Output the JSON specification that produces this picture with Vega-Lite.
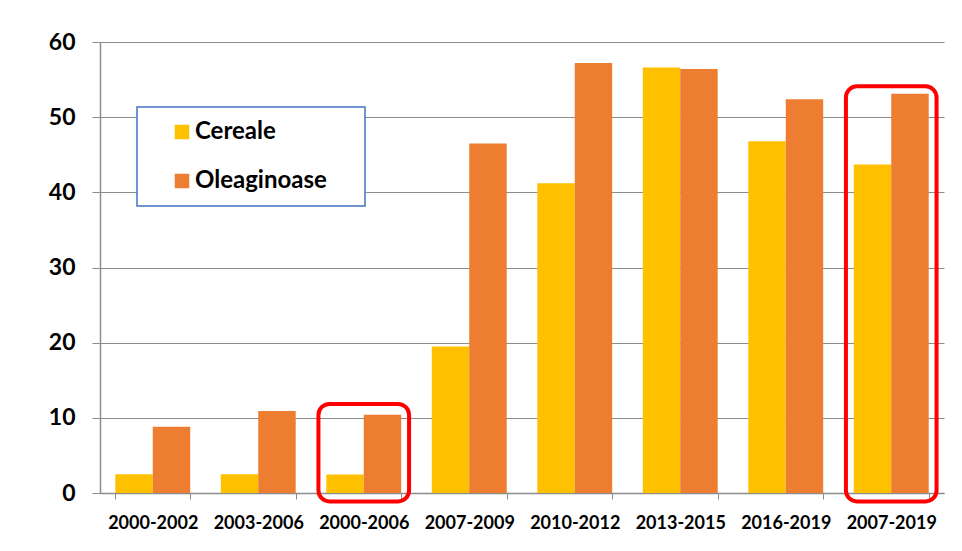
{
  "$schema": "https://vega.github.io/schema/vega-lite/v6.json",
  "width": 844,
  "height": 451,
  "autosize": {"type": "none"},
  "padding": {"left": 100, "top": 42, "right": 18, "bottom": 58},
  "background": "white",
  "config": {
    "view": {"stroke": null},
    "font": "Lato",
    "legend": {"strokeWidth": 1.5}
  },
  "datasets": {
    "bars": [
      {"period": "2000-2002", "series": "Cereale", "value": 2.5},
      {"period": "2000-2002", "series": "Oleaginoase", "value": 8.8},
      {"period": "2003-2006", "series": "Cereale", "value": 2.5},
      {"period": "2003-2006", "series": "Oleaginoase", "value": 10.9},
      {"period": "2000-2006", "series": "Cereale", "value": 2.45},
      {"period": "2000-2006", "series": "Oleaginoase", "value": 10.4},
      {"period": "2007-2009", "series": "Cereale", "value": 19.5},
      {"period": "2007-2009", "series": "Oleaginoase", "value": 46.5},
      {"period": "2010-2012", "series": "Cereale", "value": 41.2},
      {"period": "2010-2012", "series": "Oleaginoase", "value": 57.2},
      {"period": "2013-2015", "series": "Cereale", "value": 56.6},
      {"period": "2013-2015", "series": "Oleaginoase", "value": 56.4},
      {"period": "2016-2019", "series": "Cereale", "value": 46.8},
      {"period": "2016-2019", "series": "Oleaginoase", "value": 52.4},
      {"period": "2007-2019", "series": "Cereale", "value": 43.7},
      {"period": "2007-2019", "series": "Oleaginoase", "value": 53.1}
    ],
    "highlights": [
      {"period": "2000-2006", "top": 11.85, "bottom": -1.12},
      {"period": "2007-2019", "top": 54.1, "bottom": -1.12}
    ]
  },
  "encoding": {
    "x": {
      "field": "period",
      "type": "nominal",
      "title": null,
      "scale": {
        "domain": ["2000-2002", "2003-2006", "2000-2006", "2007-2009", "2010-2012", "2013-2015", "2016-2019", "2007-2019"],
        "paddingInner": 0.29,
        "paddingOuter": 0.145
      },
      "axis": {
        "labelAngle": 0,
        "labelFont": "Lato",
        "labelFontSize": 18,
        "labelFontWeight": "bold",
        "labelColor": "#000000",
        "labelPadding": 15,
        "tickBand": "extent",
        "tickSize": 6,
        "tickColor": "#8c8c8c",
        "domainColor": "#8c8c8c",
        "domainWidth": 1.5,
        "grid": false
      }
    }
  },
  "layer": [
    {
      "data": {"name": "bars"},
      "mark": {"type": "bar"},
      "encoding": {
        "xOffset": {"field": "series", "type": "nominal", "scale": {"paddingInner": 0, "paddingOuter": 0}},
        "y": {
          "field": "value",
          "type": "quantitative",
          "title": null,
          "scale": {"domain": [0, 60], "nice": false},
          "axis": {
            "values": [0, 10, 20, 30, 40, 50, 60],
            "labelFont": "Lato",
            "labelFontSize": 23,
            "labelFontWeight": "bold",
            "labelColor": "#000000",
            "labelPadding": 17,
            "tickSize": 8,
            "tickColor": "#8c8c8c",
            "domainColor": "#8c8c8c",
            "domainWidth": 1.5,
            "gridColor": "#8c8c8c",
            "gridWidth": 1.2
          }
        },
        "color": {
          "field": "series",
          "type": "nominal",
          "scale": {"domain": ["Cereale", "Oleaginoase"], "range": ["#FFC000", "#ED7D31"]},
          "legend": {
            "title": "\u2003",
            "titleOrient": "right",
            "titleFontSize": 30,
            "titlePadding": 25,
            "orient": "none",
            "legendX": 37,
            "legendY": 65,
            "padding": 13,
            "symbolOffset": 20,
            "symbolType": "square",
            "symbolSize": 210,
            "symbolStrokeWidth": 0,
            "labelOffset": 1,
            "labelFont": "Lato",
            "labelFontSize": 24,
            "labelFontWeight": "bold",
            "labelColor": "#000000",
            "rowPadding": 25,
            "strokeColor": "#4472C4",
            "fillColor": "#ffffff"
          }
        }
      }
    },
    {
      "data": {"name": "highlights"},
      "mark": {
        "type": "bar",
        "width": {"band": 1.21},
        "fill": null,
        "fillOpacity": 0,
        "stroke": "#ff0000",
        "strokeWidth": 4,
        "cornerRadius": 11
      },
      "encoding": {
        "y": {"field": "top", "type": "quantitative"},
        "y2": {"field": "bottom"}
      }
    }
  ]
}
